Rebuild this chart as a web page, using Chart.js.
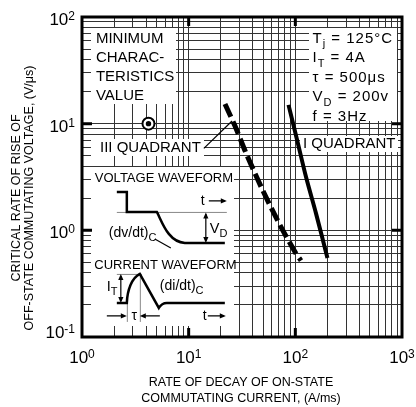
<!DOCTYPE html>
<html>
<head>
<meta charset="utf-8">
<script src="https://cdn.jsdelivr.net/npm/chart.js@4/dist/chart.umd.min.js"></script>
<style>
  html, body { margin: 0; padding: 0; background: #fff; }
  canvas { display: block; }
</style>
</head>
<body>
<canvas id="chart" width="416" height="407"></canvas>
<script>
// Critical rate of rise of off-state commutating voltage vs. rate of decay of on-state current

// III quadrant (dashed) characteristic: (A/ms, V/us)
const quadrant3X = [21.9, 27.2, 34.5, 49.8, 71.8, 101, 113];
const quadrant3Y = [15.3, 9.5, 5.3, 2.34, 1.12, 0.61, 0.52];

// I quadrant (solid) characteristic
const quadrant1X = [86.3, 104, 126, 156, 200];
const quadrant1Y = [15.0, 7.0, 3.16, 1.45, 0.55];

// Minimum characteristics value marker
const minValueX = [4.2];
const minValueY = [10];

// Axis decades and their exponent labels
const xDecades = [1, 10, 100, 1000];
const xExponents = ['0', '1', '2', '3'];
const yDecades = [0.1, 1, 10, 100];
const yExponents = ['-1', '0', '1', '2'];
const gridSteps = [1, 2, 3, 4, 5, 6, 7, 8, 9];

// Text content
const minLabelLines = ['MINIMUM', 'CHARAC-', 'TERISTICS', 'VALUE'];
const conditionLines = [
  [['T'], ['j', 'sub'], [' = 125°C']],
  [['I'], ['T', 'sub'], [' = 4A']],
  [['τ = 500μs']],
  [['V'], ['D', 'sub'], [' = 200v']],
  [['f = 3Hz']]
];
const xTitleLines = ['RATE OF DECAY OF ON-STATE', 'COMMUTATING CURRENT, (A/ms)'];
const yTitleLines = ['CRITICAL RATE OF RISE OF', 'OFF-STATE COMMUTATING VOLTAGE, (V/μs)'];

const FONT = '"Liberation Sans", Arial, Helvetica, sans-serif';
const font = s => s + 'px ' + FONT;

function points(xs, ys) { return xs.map((x, i) => ({ x, y: ys[i] })); }

function logGrid(min, max) {
  const out = [];
  for (let d = min; d < max * 1.0001; d *= 10) {
    gridSteps.forEach(s => {
      const v = Number((s * d).toPrecision(6));
      if (v <= max * 1.0001) out.push(v);
    });
  }
  return out;
}

// Rich text: segments [text, role], role 'sub' | 'sup'
function drawRich(ctx, x, y, segs, size, align) {
  const parts = segs.map(([t, role]) => {
    const s = role ? Math.round(size * 0.75) : size;
    ctx.font = font(s);
    const dy = role === 'sub' ? size * 0.3 : role === 'sup' ? -size * 0.4 : 0;
    return { t, s, dy, w: ctx.measureText(t).width };
  });
  const total = parts.reduce((a, p) => a + p.w, 0);
  let cx = align === 'right' ? x - total : align === 'center' ? x - total / 2 : x;
  ctx.textAlign = 'left';
  ctx.textBaseline = 'alphabetic';
  parts.forEach(p => { ctx.font = font(p.s); ctx.fillText(p.t, cx, y + p.dy); cx += p.w; });
}

// Power-of-ten tick label: "10" with raised exponent
function drawPow10(ctx, x, y, exp, align) {
  ctx.font = font(17);
  const wb = ctx.measureText('10').width;
  ctx.font = font(12);
  const we = ctx.measureText(exp).width;
  const total = wb + we;
  let cx = align === 'right' ? x - total : x - total / 2;
  ctx.textAlign = 'left';
  ctx.textBaseline = 'alphabetic';
  ctx.font = font(17);
  ctx.fillText('10', cx, y);
  ctx.font = font(12);
  ctx.fillText(exp, cx + wb, y - 5);
}

function arrowHead(ctx, x, y, dir) {
  const L = 6, W = 2.6;
  ctx.beginPath();
  if (dir === 'right') { ctx.moveTo(x, y); ctx.lineTo(x - L, y - W); ctx.lineTo(x - L, y + W); }
  if (dir === 'left')  { ctx.moveTo(x, y); ctx.lineTo(x + L, y - W); ctx.lineTo(x + L, y + W); }
  if (dir === 'up')    { ctx.moveTo(x, y); ctx.lineTo(x - W, y + L); ctx.lineTo(x + W, y + L); }
  if (dir === 'down')  { ctx.moveTo(x, y); ctx.lineTo(x - W, y - L); ctx.lineTo(x + W, y - L); }
  ctx.closePath();
  ctx.fill();
}

// White backgrounds behind the annotation texts (data coordinates)
const labelBoxes = [
  { x0: 1.21, x1: 7.6,  y0: 78.9, y1: 15.3 },   // minimum value note
  { x0: 1.21, x1: 13.9, y0: 7.18, y1: 4.98 },   // III quadrant label
  { x0: 1.21, x1: 26.6, y0: 3.93, y1: 0.127 },  // waveform inset
  { x0: 134,  x1: 897,  y0: 78.9, y1: 10.6 },   // test conditions
  { x0: 110.6, x1: 917, y0: 7.66, y1: 5.42 }    // I quadrant label
];

// Annotation anchors (data coordinates)
const minLabelAnchor = { x: 1.35, y: 57.4 };
const conditionAnchor = { x: 145, y: 57.6 };
const q3LabelAnchor = { x: 1.475, y: 5.38 };
const q3LeaderEnd = { x: 25.5, y: 10.6 };
const q1LabelAnchor = { x: 118, y: 5.93 };
const insetAnchor = { x: 1.21, y: 3.93 };

const annotations = {
  id: 'annotations',
  beforeDatasetsDraw(chart) {
    const { ctx, scales: { x, y } } = chart;
    ctx.save();
    ctx.fillStyle = '#fff';
    labelBoxes.forEach(b => {
      const l = Math.round(x.getPixelForValue(b.x0)), r = Math.round(x.getPixelForValue(b.x1));
      const t = Math.round(y.getPixelForValue(b.y0)), btm = Math.round(y.getPixelForValue(b.y1));
      ctx.fillRect(l, t, r - l, btm - t);
    });
    ctx.restore();
  },
  afterDatasetsDraw(chart) {
    const { ctx, chartArea: ca, scales: { x, y } } = chart;
    const X = v => x.getPixelForValue(v), Y = v => y.getPixelForValue(v);
    ctx.save();
    ctx.fillStyle = '#000';
    ctx.strokeStyle = '#000';

    // Minimum value note
    minLabelLines.forEach((t, i) => {
      ctx.font = font(15); ctx.textAlign = 'left'; ctx.textBaseline = 'alphabetic';
      ctx.fillText(t, X(minLabelAnchor.x), Y(minLabelAnchor.y) + i * 19);
    });

    // Test conditions
    ctx.letterSpacing = '1px';
    conditionLines.forEach((segs, i) => {
      drawRich(ctx, X(conditionAnchor.x), Y(conditionAnchor.y) + i * 19.5, segs, 15, 'left');
    });
    ctx.letterSpacing = '0px';

    // Quadrant labels
    ctx.font = font(15); ctx.textAlign = 'left'; ctx.textBaseline = 'alphabetic';
    ctx.fillText('III QUADRANT', X(q3LabelAnchor.x), Y(q3LabelAnchor.y));
    const q3w = ctx.measureText('III QUADRANT').width;
    ctx.fillText('I QUADRANT', X(q1LabelAnchor.x), Y(q1LabelAnchor.y));
    ctx.lineWidth = 1.2;
    ctx.beginPath();
    ctx.moveTo(X(q3LabelAnchor.x) + q3w + 3, Y(q3LabelAnchor.y) - 4);
    ctx.lineTo(X(q3LeaderEnd.x), Y(q3LeaderEnd.y));
    ctx.stroke();

    // Waveform inset, drawn relative to its top-left corner
    const ox = X(insetAnchor.x), oy = Y(insetAnchor.y);
    const P = (dx, dy) => [ox + dx, oy + dy];
    ctx.font = font(13);
    ctx.fillText('VOLTAGE WAVEFORM', ...P(4, 14.6));
    ctx.fillText('CURRENT WAVEFORM', ...P(3.5, 101.6));

    // reference levels and tau markers (gray)
    ctx.strokeStyle = '#888'; ctx.lineWidth = 1;
    ctx.beginPath();
    ctx.moveTo(...P(26, 45.5)); ctx.lineTo(...P(136, 45.5));
    ctx.moveTo(...P(26, 107.5)); ctx.lineTo(...P(51, 107.5));
    ctx.moveTo(...P(36.5, 136)); ctx.lineTo(...P(36.5, 155));
    ctx.moveTo(...P(49.5, 107)); ctx.lineTo(...P(49.5, 155));
    ctx.stroke();

    // voltage waveform
    ctx.strokeStyle = '#000'; ctx.lineWidth = 2.5; ctx.lineJoin = 'miter';
    ctx.beginPath();
    ctx.moveTo(...P(26, 25)); ctx.lineTo(...P(36, 25)); ctx.lineTo(...P(36, 45));
    ctx.lineTo(...P(66, 45));
    ctx.bezierCurveTo(...P(71, 54), ...P(77, 75), ...P(94, 76));
    ctx.lineTo(...P(134, 76));
    ctx.stroke();

    // current waveform
    ctx.beginPath();
    ctx.moveTo(...P(26, 136)); ctx.lineTo(...P(36, 136));
    ctx.bezierCurveTo(...P(36.5, 123), ...P(41, 111), ...P(49, 107));
    ctx.lineTo(...P(68, 141));
    ctx.quadraticCurveTo(...P(71, 136), ...P(76, 136));
    ctx.lineTo(...P(134, 136));
    ctx.stroke();

    // thin arrows and leader
    ctx.lineWidth = 1.2;
    ctx.beginPath();
    ctx.moveTo(...P(115, 47)); ctx.lineTo(...P(115, 74));     // VD
    ctx.moveTo(...P(118, 34)); ctx.lineTo(...P(134, 34));     // t (voltage)
    ctx.moveTo(...P(64, 72)); ctx.lineTo(...P(80, 81));       // dv/dt leader
    ctx.moveTo(...P(30, 109)); ctx.lineTo(...P(30, 134));     // IT
    ctx.moveTo(...P(16, 149)); ctx.lineTo(...P(33, 149));     // tau left
    ctx.moveTo(...P(69, 149)); ctx.lineTo(...P(52, 149));     // tau right
    ctx.moveTo(...P(117, 149)); ctx.lineTo(...P(133, 149));   // t (current)
    ctx.stroke();
    arrowHead(ctx, ...P(115, 45.5), 'up');
    arrowHead(ctx, ...P(115, 76), 'down');
    arrowHead(ctx, ...P(136, 34), 'right');
    arrowHead(ctx, ...P(30, 107), 'up');
    arrowHead(ctx, ...P(30, 136), 'down');
    arrowHead(ctx, ...P(36, 149), 'right');
    arrowHead(ctx, ...P(49, 149), 'left');
    arrowHead(ctx, ...P(135, 149), 'right');

    drawRich(ctx, ...P(119, 66), [['V'], ['D', 'sub']], 14.5, 'left');
    drawRich(ctx, ...P(18, 70), [['(dv/dt)'], ['C', 'sub']], 14, 'left');
    drawRich(ctx, ...P(16, 124), [['I'], ['T', 'sub']], 14.5, 'left');
    drawRich(ctx, ...P(69, 123), [['(di/dt)'], ['C', 'sub']], 14, 'left');
    ctx.font = font(14); ctx.textAlign = 'left';
    ctx.fillText('t', ...P(110, 38.5));
    ctx.fillText('t', ...P(112, 153.5));
    ctx.textAlign = 'center';
    ctx.fillText('τ', ...P(43.5, 153));

    // Plot frame and decade tick marks
    ctx.strokeStyle = '#000';
    ctx.lineWidth = 3;
    ctx.strokeRect(ca.left, ca.top, ca.right - ca.left, ca.bottom - ca.top);
    ctx.beginPath();
    xDecades.slice(1, -1).forEach(v => {
      const px = X(v);
      ctx.moveTo(px, ca.top); ctx.lineTo(px, ca.top + 9);
      ctx.moveTo(px, ca.bottom); ctx.lineTo(px, ca.bottom - 9);
    });
    yDecades.slice(1, -1).forEach(v => {
      const py = Y(v);
      ctx.moveTo(ca.left, py); ctx.lineTo(ca.left + 10, py);
      ctx.moveTo(ca.right, py); ctx.lineTo(ca.right - 10, py);
    });
    ctx.stroke();

    // Tick labels
    ctx.fillStyle = '#000';
    xDecades.forEach((v, i) => drawPow10(ctx, X(v), ca.bottom + 26, xExponents[i], 'center'));
    yDecades.forEach((v, i) => drawPow10(ctx, ca.left - 7, Math.min(Y(v) + 8, ca.bottom + 1), yExponents[i], 'right'));

    // Axis titles
    ctx.font = font(12.5);
    ctx.textAlign = 'center';
    ctx.textBaseline = 'alphabetic';
    const cx = (ca.left + ca.right) / 2 - 1;
    ctx.fillText(xTitleLines[0], cx, ca.bottom + 48.5);
    ctx.fillText(xTitleLines[1], cx, ca.bottom + 64.5);
    const cy = (ca.top + ca.bottom) / 2 + 21;
    [ca.left - 65, ca.left - 52.5].forEach((px, i) => {
      ctx.save();
      ctx.translate(px, cy);
      ctx.rotate(-Math.PI / 2);
      ctx.textBaseline = 'middle';
      ctx.fillText(yTitleLines[i], 0, 0);
      ctx.restore();
    });
    ctx.restore();
  }
};

const gridOpts = { color: '#333', lineWidth: 1, drawTicks: false };

new Chart(document.getElementById('chart'), {
  type: 'scatter',
  data: {
    datasets: [
      {
        label: 'III quadrant',
        data: points(quadrant3X, quadrant3Y),
        showLine: true, borderColor: '#000', borderWidth: 5, borderDash: [14, 5],
        borderCapStyle: 'butt', pointRadius: 0, tension: 0.3
      },
      {
        label: 'I quadrant',
        data: points(quadrant1X, quadrant1Y),
        showLine: true, borderColor: '#000', borderWidth: 4,
        pointRadius: 0, tension: 0.3
      },
      {
        // center dot sits above the ring (lower index is drawn later)
        label: 'Minimum characteristics value (center)',
        data: points(minValueX, minValueY),
        pointRadius: 2.7, pointBorderWidth: 0, pointBackgroundColor: '#000', pointBorderColor: '#000'
      },
      {
        label: 'Minimum characteristics value',
        data: points(minValueX, minValueY),
        pointRadius: 6, pointBorderWidth: 2, pointBackgroundColor: '#fff', pointBorderColor: '#000'
      }
    ]
  },
  options: {
    responsive: false,
    animation: false,
    devicePixelRatio: 1,
    layout: { padding: { left: 82, top: 17, right: 14, bottom: 70 } },
    plugins: { legend: { display: false }, tooltip: { enabled: false } },
    scales: {
      x: {
        type: 'logarithmic', min: xDecades[0], max: xDecades[xDecades.length - 1],
        grid: gridOpts, border: { display: false }, ticks: { display: false },
        afterBuildTicks: s => { s.ticks = logGrid(xDecades[0], xDecades[xDecades.length - 1]).map(value => ({ value })); }
      },
      y: {
        type: 'logarithmic', min: yDecades[0], max: yDecades[yDecades.length - 1],
        grid: gridOpts, border: { display: false }, ticks: { display: false },
        afterBuildTicks: s => { s.ticks = logGrid(yDecades[0], yDecades[yDecades.length - 1]).map(value => ({ value })); }
      }
    }
  },
  plugins: [annotations]
});
</script>
</body>
</html>
